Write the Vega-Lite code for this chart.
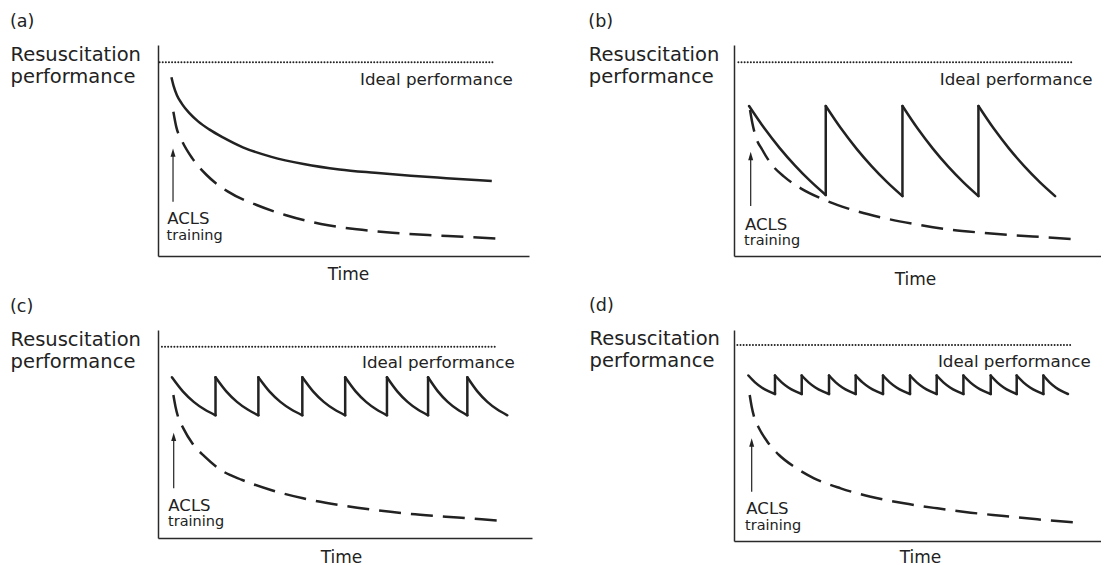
{
  "$schema": "https://vega.github.io/schema/vega-lite/v6.json",
  "padding": {"left": 10, "top": 12, "right": 0, "bottom": 0},
  "bounds": "flush",
  "align": "each",
  "columns": 2,
  "spacing": {"row": 74, "column": 202},
  "config": {
    "font": "DejaVu Sans",
    "view": {"stroke": null},
    "axis": {"grid": false, "ticks": false, "labels": false, "domainColor": "#2a2a2a", "domainWidth": 1.5, "titleFontWeight": "normal", "titleColor": "#222222"},
    "title": {"fontSize": 17.5, "fontWeight": "normal", "anchor": "start", "color": "#222222", "offset": 14}
  },
  "concat": [
    {
      "width": 371, "height": 211,
      "title": {"text": "(a)"},
      "encoding": {
        "x": {"field": "x", "type": "quantitative", "scale": {"domain": [0, 100], "nice": false},
              "axis": {"title": "Time", "titleX": 190, "titleY": 23.3, "titleAlign": "center", "titleBaseline": "alphabetic", "titleFontSize": 17}},
        "y": {"field": "y", "type": "quantitative", "scale": {"domain": [0, 100], "nice": false},
              "axis": {"title": ["Resuscitation", "performance"], "titleX": -148, "titleY": 15, "titleAngle": 0, "titleAlign": "left", "titleBaseline": "alphabetic", "titleFontSize": 19.5, "titleLineHeight": 22}}
      },
      "layer": [
        {"data": {"values": [{"x": 0.44, "y": 91.8}, {"x": 90.7, "y": 91.8}]},
         "mark": {"type": "line", "strokeDash": [0.01, 3.1], "strokeCap": "round", "strokeWidth": 2, "color": "#222222"}},
        {"data": {"values": [{"x": 4.14, "y": 68.4}, {"x": 4.91, "y": 61.3}, {"x": 6.36, "y": 54.98}, {"x": 9.25, "y": 46.29}, {"x": 13.1, "y": 38.39}, {"x": 18.88, "y": 30.49}, {"x": 26.59, "y": 24.17}, {"x": 34.3, "y": 19.43}, {"x": 43.93, "y": 15.17}, {"x": 53.56, "y": 12.64}, {"x": 63.2, "y": 11.06}, {"x": 72.83, "y": 9.95}, {"x": 82.47, "y": 9.16}, {"x": 93.55, "y": 8.06}]},
         "mark": {"type": "line", "interpolate": "monotone", "strokeDash": [22, 10], "strokeWidth": 2.5, "color": "#222222"}},
        {"data": {"values": [{"x": 3.62, "y": 84.68}, {"x": 4.2, "y": 80.6}, {"x": 5.1, "y": 76.2}, {"x": 6.5, "y": 72.0}, {"x": 8.4, "y": 67.8}, {"x": 10.8, "y": 63.8}, {"x": 13.8, "y": 60.0}, {"x": 17.5, "y": 56.2}, {"x": 22.87, "y": 51.5}, {"x": 30.57, "y": 47.0}, {"x": 39.24, "y": 43.6}, {"x": 48.89, "y": 41.0}, {"x": 58.49, "y": 39.4}, {"x": 68.12, "y": 38.0}, {"x": 77.74, "y": 36.9}, {"x": 89.97, "y": 35.55}]},
         "mark": {"type": "line", "interpolate": "monotone", "strokeWidth": 2.5, "color": "#222222"}},
        {"data": {"values": [{"x": 4.05, "y": 25.7, "y2": 49.0}]},
         "mark": {"type": "rule", "strokeWidth": 1.2, "color": "#222222"},
         "encoding": {"y2": {"field": "y2"}}},
        {"data": {"values": [{"x": 4.05, "y": 49.0}]},
         "mark": {"type": "point", "shape": "M0,-1L0.6,1L-0.6,1Z", "size": 70, "filled": true, "opacity": 1, "color": "#222222"}},
        {"data": {"values": [{"x": 95.65, "y": 81.0, "label": "Ideal performance"}]},
         "mark": {"type": "text", "align": "right", "baseline": "alphabetic", "fontSize": 16.7, "color": "#222222"},
         "encoding": {"text": {"field": "label"}}},
        {"data": {"values": [{"x": 2.5, "y": 15.0, "label": "ACLS"}]},
         "mark": {"type": "text", "align": "left", "baseline": "alphabetic", "fontSize": 16.5, "color": "#222222"},
         "encoding": {"text": {"field": "label"}}},
        {"data": {"values": [{"x": 2.31, "y": 7.6, "label": "training"}]},
         "mark": {"type": "text", "align": "left", "baseline": "alphabetic", "fontSize": 14.5, "color": "#222222"},
         "encoding": {"text": {"field": "label"}}}
      ]
    },
    {
      "width": 367, "height": 211,
      "title": {"text": "(b)"},
      "encoding": {
        "x": {"field": "x", "type": "quantitative", "scale": {"domain": [0, 100], "nice": false},
              "axis": {"title": "Time", "titleX": 181, "titleY": 28, "titleAlign": "center", "titleBaseline": "alphabetic", "titleFontSize": 17}},
        "y": {"field": "y", "type": "quantitative", "scale": {"domain": [0, 100], "nice": false},
              "axis": {"title": ["Resuscitation", "performance"], "titleX": -145.7, "titleY": 15, "titleAngle": 0, "titleAlign": "left", "titleBaseline": "alphabetic", "titleFontSize": 19.5, "titleLineHeight": 22}}
      },
      "layer": [
        {"data": {"values": [{"x": 1.2, "y": 91.8}, {"x": 92.0, "y": 91.8}]},
         "mark": {"type": "line", "strokeDash": [0.01, 3.1], "strokeCap": "round", "strokeWidth": 2, "color": "#222222"}},
        {"data": {"values": [{"x": 4.37, "y": 69.19}, {"x": 5.01, "y": 62.88}, {"x": 5.92, "y": 56.56}, {"x": 7.74, "y": 50.24}, {"x": 10.01, "y": 43.92}, {"x": 13.64, "y": 37.6}, {"x": 18.19, "y": 32.07}, {"x": 23.64, "y": 27.33}, {"x": 30.92, "y": 22.59}, {"x": 40.0, "y": 18.33}, {"x": 49.1, "y": 15.17}, {"x": 58.19, "y": 12.64}, {"x": 67.28, "y": 11.06}, {"x": 76.37, "y": 9.8}, {"x": 85.46, "y": 8.85}, {"x": 93.37, "y": 7.9}]},
         "mark": {"type": "line", "interpolate": "monotone", "strokeDash": [22, 10], "strokeWidth": 2.5, "color": "#222222"}},
        {"data": {"values": [
          {"seg": 1, "x": 4.1, "y": 71.1}, {"seg": 1, "x": 8.28, "y": 60.51}, {"seg": 1, "x": 12.46, "y": 51.14}, {"seg": 1, "x": 16.64, "y": 42.83}, {"seg": 1, "x": 20.82, "y": 35.44}, {"seg": 1, "x": 25.0, "y": 28.9},
          {"seg": 2, "x": 25.0, "y": 71.1}, {"seg": 2, "x": 29.18, "y": 60.38}, {"seg": 2, "x": 33.36, "y": 50.9}, {"seg": 2, "x": 37.54, "y": 42.49}, {"seg": 2, "x": 41.72, "y": 35.02}, {"seg": 2, "x": 45.9, "y": 28.4},
          {"seg": 3, "x": 45.9, "y": 71.1}, {"seg": 3, "x": 50.04, "y": 60.38}, {"seg": 3, "x": 54.18, "y": 50.9}, {"seg": 3, "x": 58.32, "y": 42.49}, {"seg": 3, "x": 62.46, "y": 35.02}, {"seg": 3, "x": 66.6, "y": 28.4},
          {"seg": 4, "x": 66.6, "y": 71.1}, {"seg": 4, "x": 70.78, "y": 60.38}, {"seg": 4, "x": 74.96, "y": 50.9}, {"seg": 4, "x": 79.14, "y": 42.49}, {"seg": 4, "x": 83.32, "y": 35.02}, {"seg": 4, "x": 87.5, "y": 28.4}]},
         "mark": {"type": "line", "interpolate": "monotone", "strokeWidth": 2.5, "strokeCap": "round", "color": "#222222"},
         "encoding": {"detail": {"field": "seg", "type": "nominal"}}},
        {"data": {"values": [{"x": 25.0, "y": 28.9, "y2": 71.1}, {"x": 45.9, "y": 28.4, "y2": 71.1}, {"x": 66.6, "y": 28.4, "y2": 71.1}]},
         "mark": {"type": "rule", "strokeWidth": 2.5, "strokeCap": "round", "color": "#222222"},
         "encoding": {"y2": {"field": "y2"}}},
        {"data": {"values": [{"x": 4.55, "y": 23.7, "y2": 47.4}]},
         "mark": {"type": "rule", "strokeWidth": 1.2, "color": "#222222"},
         "encoding": {"y2": {"field": "y2"}}},
        {"data": {"values": [{"x": 4.55, "y": 47.4}]},
         "mark": {"type": "point", "shape": "M0,-1L0.6,1L-0.6,1Z", "size": 70, "filled": true, "opacity": 1, "color": "#222222"}},
        {"data": {"values": [{"x": 97.7, "y": 81.0, "label": "Ideal performance"}]},
         "mark": {"type": "text", "align": "right", "baseline": "alphabetic", "fontSize": 16.7, "color": "#222222"},
         "encoding": {"text": {"field": "label"}}},
        {"data": {"values": [{"x": 3.0, "y": 12.3, "label": "ACLS"}]},
         "mark": {"type": "text", "align": "left", "baseline": "alphabetic", "fontSize": 16.5, "color": "#222222"},
         "encoding": {"text": {"field": "label"}}},
        {"data": {"values": [{"x": 2.73, "y": 5.2, "label": "training"}]},
         "mark": {"type": "text", "align": "left", "baseline": "alphabetic", "fontSize": 14.5, "color": "#222222"},
         "encoding": {"text": {"field": "label"}}}
      ]
    },
    {
      "width": 374, "height": 208,
      "title": {"text": "(c)"},
      "encoding": {
        "x": {"field": "x", "type": "quantitative", "scale": {"domain": [0, 100], "nice": false},
              "axis": {"title": "Time", "titleX": 183, "titleY": 24.7, "titleAlign": "center", "titleBaseline": "alphabetic", "titleFontSize": 17}},
        "y": {"field": "y", "type": "quantitative", "scale": {"domain": [0, 100], "nice": false},
              "axis": {"title": ["Resuscitation", "performance"], "titleX": -148, "titleY": 15, "titleAngle": 0, "titleAlign": "left", "titleBaseline": "alphabetic", "titleFontSize": 19.5, "titleLineHeight": 22}}
      },
      "layer": [
        {"data": {"values": [{"x": 1.05, "y": 91.97}, {"x": 90.5, "y": 91.97}]},
         "mark": {"type": "line", "strokeDash": [0.01, 3.1], "strokeCap": "round", "strokeWidth": 2, "color": "#222222"}},
        {"data": {"values": [{"x": 4.11, "y": 68.75}, {"x": 4.68, "y": 63.14}, {"x": 5.35, "y": 58.33}, {"x": 6.78, "y": 52.72}, {"x": 9.17, "y": 45.51}, {"x": 12.51, "y": 39.1}, {"x": 16.81, "y": 32.69}, {"x": 22.54, "y": 27.88}, {"x": 30.18, "y": 23.08}, {"x": 38.78, "y": 19.07}, {"x": 48.33, "y": 15.87}, {"x": 57.88, "y": 13.46}, {"x": 67.43, "y": 11.54}, {"x": 76.98, "y": 10.26}, {"x": 86.53, "y": 8.97}, {"x": 93.03, "y": 8.17}]},
         "mark": {"type": "line", "interpolate": "monotone", "strokeDash": [22, 10], "strokeWidth": 2.5, "color": "#222222"}},
        {"data": {"values": [
          {"seg": 1, "x": 3.72, "y": 77.26}, {"seg": 1, "x": 6.64, "y": 70.49}, {"seg": 1, "x": 9.55, "y": 65.46}, {"seg": 1, "x": 12.47, "y": 61.76}, {"seg": 1, "x": 15.38, "y": 59.0},
          {"seg": 2, "x": 15.38, "y": 77.26}, {"seg": 2, "x": 18.25, "y": 70.49}, {"seg": 2, "x": 21.11, "y": 65.46}, {"seg": 2, "x": 23.98, "y": 61.76}, {"seg": 2, "x": 26.84, "y": 59.0},
          {"seg": 3, "x": 26.84, "y": 77.26}, {"seg": 3, "x": 29.78, "y": 70.49}, {"seg": 3, "x": 32.72, "y": 65.46}, {"seg": 3, "x": 35.65, "y": 61.76}, {"seg": 3, "x": 38.59, "y": 59.0},
          {"seg": 4, "x": 38.59, "y": 77.26}, {"seg": 4, "x": 41.46, "y": 70.49}, {"seg": 4, "x": 44.32, "y": 65.46}, {"seg": 4, "x": 47.19, "y": 61.76}, {"seg": 4, "x": 50.05, "y": 59.0},
          {"seg": 5, "x": 50.05, "y": 77.26}, {"seg": 5, "x": 52.84, "y": 70.49}, {"seg": 5, "x": 55.64, "y": 65.46}, {"seg": 5, "x": 58.43, "y": 61.76}, {"seg": 5, "x": 61.22, "y": 59.0},
          {"seg": 6, "x": 61.22, "y": 77.26}, {"seg": 6, "x": 63.97, "y": 70.49}, {"seg": 6, "x": 66.72, "y": 65.46}, {"seg": 6, "x": 69.46, "y": 61.76}, {"seg": 6, "x": 72.21, "y": 59.0},
          {"seg": 7, "x": 72.21, "y": 77.26}, {"seg": 7, "x": 74.84, "y": 70.49}, {"seg": 7, "x": 77.46, "y": 65.46}, {"seg": 7, "x": 80.09, "y": 61.76}, {"seg": 7, "x": 82.71, "y": 59.0},
          {"seg": 8, "x": 82.71, "y": 77.26}, {"seg": 8, "x": 85.39, "y": 70.49}, {"seg": 8, "x": 88.06, "y": 65.46}, {"seg": 8, "x": 90.74, "y": 61.76}, {"seg": 8, "x": 93.41, "y": 59.0}]},
         "mark": {"type": "line", "interpolate": "monotone", "strokeWidth": 2.5, "strokeCap": "round", "color": "#222222"},
         "encoding": {"detail": {"field": "seg", "type": "nominal"}}},
        {"data": {"values": [{"x": 15.38, "y": 59.0, "y2": 77.26}, {"x": 26.84, "y": 59.0, "y2": 77.26}, {"x": 38.59, "y": 59.0, "y2": 77.26}, {"x": 50.05, "y": 59.0, "y2": 77.26}, {"x": 61.22, "y": 59.0, "y2": 77.26}, {"x": 72.21, "y": 59.0, "y2": 77.26}, {"x": 82.71, "y": 59.0, "y2": 77.26}]},
         "mark": {"type": "rule", "strokeWidth": 2.5, "strokeCap": "round", "color": "#222222"},
         "encoding": {"y2": {"field": "y2"}}},
        {"data": {"values": [{"x": 4.2, "y": 23.9, "y2": 48.6}]},
         "mark": {"type": "rule", "strokeWidth": 1.2, "color": "#222222"},
         "encoding": {"y2": {"field": "y2"}}},
        {"data": {"values": [{"x": 4.2, "y": 48.6}]},
         "mark": {"type": "point", "shape": "M0,-1L0.6,1L-0.6,1Z", "size": 70, "filled": true, "opacity": 1, "color": "#222222"}},
        {"data": {"values": [{"x": 95.4, "y": 81.9, "label": "Ideal performance"}]},
         "mark": {"type": "text", "align": "right", "baseline": "alphabetic", "fontSize": 16.7, "color": "#222222"},
         "encoding": {"text": {"field": "label"}}},
        {"data": {"values": [{"x": 2.77, "y": 13.1, "label": "ACLS"}]},
         "mark": {"type": "text", "align": "left", "baseline": "alphabetic", "fontSize": 16.5, "color": "#222222"},
         "encoding": {"text": {"field": "label"}}},
        {"data": {"values": [{"x": 2.67, "y": 5.8, "label": "training"}]},
         "mark": {"type": "text", "align": "left", "baseline": "alphabetic", "fontSize": 14.5, "color": "#222222"},
         "encoding": {"text": {"field": "label"}}}
      ]
    },
    {
      "width": 367, "height": 211,
      "title": {"text": "(d)"},
      "encoding": {
        "x": {"field": "x", "type": "quantitative", "scale": {"domain": [0, 100], "nice": false},
              "axis": {"title": "Time", "titleX": 186, "titleY": 21.5, "titleAlign": "center", "titleBaseline": "alphabetic", "titleFontSize": 17}},
        "y": {"field": "y", "type": "quantitative", "scale": {"domain": [0, 100], "nice": false},
              "axis": {"title": ["Resuscitation", "performance"], "titleX": -145, "titleY": 14.3, "titleAngle": 0, "titleAlign": "left", "titleBaseline": "alphabetic", "titleFontSize": 19.5, "titleLineHeight": 22}}
      },
      "layer": [
        {"data": {"values": [{"x": 0.92, "y": 92.9}, {"x": 91.74, "y": 92.9}]},
         "mark": {"type": "line", "strokeDash": [0.01, 3.1], "strokeCap": "round", "strokeWidth": 2, "color": "#222222"}},
        {"data": {"values": [{"x": 4.28, "y": 69.19}, {"x": 4.82, "y": 63.66}, {"x": 5.46, "y": 58.92}, {"x": 6.82, "y": 53.4}, {"x": 9.09, "y": 47.08}, {"x": 12.27, "y": 40.76}, {"x": 16.36, "y": 35.23}, {"x": 21.81, "y": 29.7}, {"x": 29.07, "y": 24.96}, {"x": 37.25, "y": 21.01}, {"x": 46.33, "y": 17.85}, {"x": 55.41, "y": 15.48}, {"x": 64.5, "y": 13.43}, {"x": 73.58, "y": 11.85}, {"x": 82.66, "y": 10.27}, {"x": 93.56, "y": 8.69}]},
         "mark": {"type": "line", "interpolate": "monotone", "strokeDash": [22, 10], "strokeWidth": 2.5, "color": "#222222"}},
        {"data": {"values": [
          {"seg": 1, "x": 3.92, "y": 78.44}, {"seg": 1, "x": 5.73, "y": 75.19}, {"seg": 1, "x": 7.55, "y": 72.77}, {"seg": 1, "x": 9.36, "y": 70.99}, {"seg": 1, "x": 11.17, "y": 69.67},
          {"seg": 2, "x": 11.17, "y": 78.44}, {"seg": 2, "x": 12.99, "y": 75.19}, {"seg": 2, "x": 14.81, "y": 72.77}, {"seg": 2, "x": 16.63, "y": 70.99}, {"seg": 2, "x": 18.45, "y": 69.67},
          {"seg": 3, "x": 18.45, "y": 78.44}, {"seg": 3, "x": 20.31, "y": 75.19}, {"seg": 3, "x": 22.17, "y": 72.77}, {"seg": 3, "x": 24.03, "y": 70.99}, {"seg": 3, "x": 25.89, "y": 69.67},
          {"seg": 4, "x": 25.89, "y": 78.44}, {"seg": 4, "x": 27.71, "y": 75.19}, {"seg": 4, "x": 29.53, "y": 72.77}, {"seg": 4, "x": 31.34, "y": 70.99}, {"seg": 4, "x": 33.16, "y": 69.67},
          {"seg": 5, "x": 33.16, "y": 78.44}, {"seg": 5, "x": 35.02, "y": 75.19}, {"seg": 5, "x": 36.88, "y": 72.77}, {"seg": 5, "x": 38.74, "y": 70.99}, {"seg": 5, "x": 40.6, "y": 69.67},
          {"seg": 6, "x": 40.6, "y": 78.44}, {"seg": 6, "x": 42.44, "y": 75.19}, {"seg": 6, "x": 44.28, "y": 72.77}, {"seg": 6, "x": 46.12, "y": 70.99}, {"seg": 6, "x": 47.96, "y": 69.67},
          {"seg": 7, "x": 47.96, "y": 78.44}, {"seg": 7, "x": 49.78, "y": 75.19}, {"seg": 7, "x": 51.6, "y": 72.77}, {"seg": 7, "x": 53.41, "y": 70.99}, {"seg": 7, "x": 55.23, "y": 69.67},
          {"seg": 8, "x": 55.23, "y": 78.44}, {"seg": 8, "x": 57.05, "y": 75.19}, {"seg": 8, "x": 58.87, "y": 72.77}, {"seg": 8, "x": 60.69, "y": 70.99}, {"seg": 8, "x": 62.51, "y": 69.67},
          {"seg": 9, "x": 62.51, "y": 78.44}, {"seg": 9, "x": 64.37, "y": 75.19}, {"seg": 9, "x": 66.23, "y": 72.77}, {"seg": 9, "x": 68.09, "y": 70.99}, {"seg": 9, "x": 69.95, "y": 69.67},
          {"seg": 10, "x": 69.95, "y": 78.44}, {"seg": 10, "x": 71.72, "y": 75.19}, {"seg": 10, "x": 73.49, "y": 72.77}, {"seg": 10, "x": 75.26, "y": 70.99}, {"seg": 10, "x": 77.03, "y": 69.67},
          {"seg": 11, "x": 77.03, "y": 78.44}, {"seg": 11, "x": 78.85, "y": 75.19}, {"seg": 11, "x": 80.67, "y": 72.77}, {"seg": 11, "x": 82.48, "y": 70.99}, {"seg": 11, "x": 84.3, "y": 69.67},
          {"seg": 12, "x": 84.3, "y": 78.44}, {"seg": 12, "x": 85.98, "y": 75.19}, {"seg": 12, "x": 87.66, "y": 72.77}, {"seg": 12, "x": 89.33, "y": 70.99}, {"seg": 12, "x": 91.01, "y": 69.67}]},
         "mark": {"type": "line", "interpolate": "monotone", "strokeWidth": 2.5, "strokeCap": "round", "color": "#222222"},
         "encoding": {"detail": {"field": "seg", "type": "nominal"}}},
        {"data": {"values": [{"x": 11.17, "y": 69.67, "y2": 78.44}, {"x": 18.45, "y": 69.67, "y2": 78.44}, {"x": 25.89, "y": 69.67, "y2": 78.44}, {"x": 33.16, "y": 69.67, "y2": 78.44}, {"x": 40.6, "y": 69.67, "y2": 78.44}, {"x": 47.96, "y": 69.67, "y2": 78.44}, {"x": 55.23, "y": 69.67, "y2": 78.44}, {"x": 62.51, "y": 69.67, "y2": 78.44}, {"x": 69.95, "y": 69.67, "y2": 78.44}, {"x": 77.03, "y": 69.67, "y2": 78.44}, {"x": 84.3, "y": 69.67, "y2": 78.44}]},
         "mark": {"type": "rule", "strokeWidth": 2.5, "strokeCap": "round", "color": "#222222"},
         "encoding": {"y2": {"field": "y2"}}},
        {"data": {"values": [{"x": 4.82, "y": 23.4, "y2": 46.7}]},
         "mark": {"type": "rule", "strokeWidth": 1.2, "color": "#222222"},
         "encoding": {"y2": {"field": "y2"}}},
        {"data": {"values": [{"x": 4.82, "y": 46.7}]},
         "mark": {"type": "point", "shape": "M0,-1L0.6,1L-0.6,1Z", "size": 70, "filled": true, "opacity": 1, "color": "#222222"}},
        {"data": {"values": [{"x": 97.2, "y": 82.6, "label": "Ideal performance"}]},
         "mark": {"type": "text", "align": "right", "baseline": "alphabetic", "fontSize": 16.7, "color": "#222222"},
         "encoding": {"text": {"field": "label"}}},
        {"data": {"values": [{"x": 3.37, "y": 12.65, "label": "ACLS"}]},
         "mark": {"type": "text", "align": "left", "baseline": "alphabetic", "fontSize": 16.5, "color": "#222222"},
         "encoding": {"text": {"field": "label"}}},
        {"data": {"values": [{"x": 3.0, "y": 5.2, "label": "training"}]},
         "mark": {"type": "text", "align": "left", "baseline": "alphabetic", "fontSize": 14.5, "color": "#222222"},
         "encoding": {"text": {"field": "label"}}}
      ]
    }
  ]
}
